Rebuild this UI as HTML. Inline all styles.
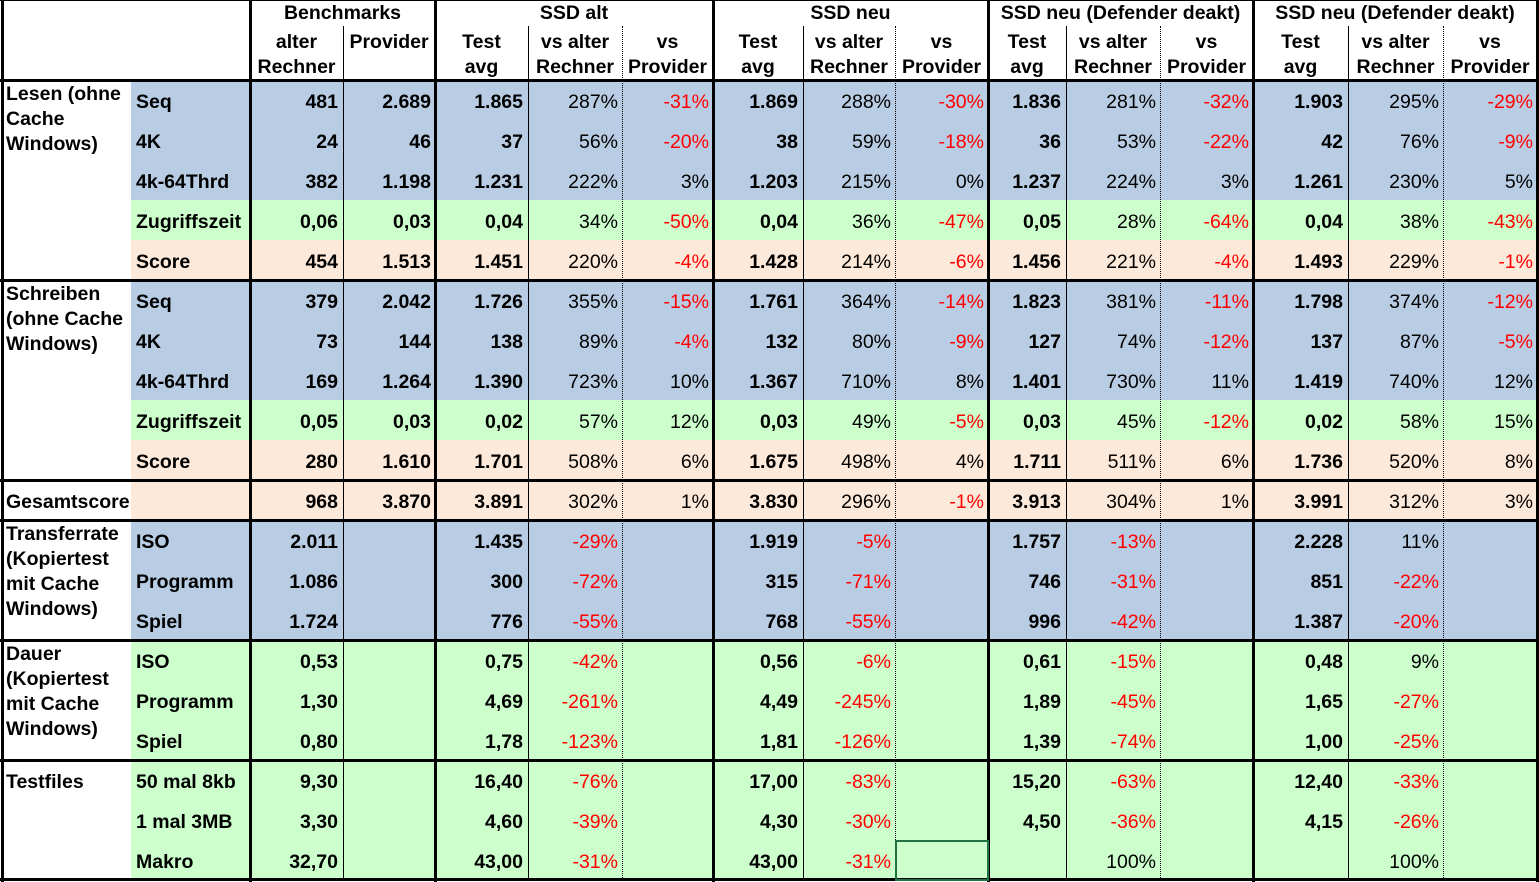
<!DOCTYPE html>
<html><head><meta charset="utf-8">
<style>
html,body{margin:0;padding:0;background:#fff;}
body{width:1539px;height:882px;position:relative;overflow:hidden;font-family:"Liberation Sans",Arial,sans-serif;}
.c{position:absolute;box-sizing:border-box;font-size:19.5px;line-height:40px;white-space:nowrap;color:#000;}
.t{padding-top:2px;}
.r{text-align:right;padding-right:4px;}
.b{font-weight:bold;}
.neg{color:#ff0000;}
.ln{position:absolute;background:#000;}
.dot{position:absolute;border-left:1px dotted #000;width:0;}
.h{position:absolute;font-size:19.5px;font-weight:bold;text-align:center;line-height:25px;}
.lab{position:absolute;font-size:19.5px;font-weight:bold;line-height:25px;left:6px;}
</style></head>
<body>
<div id="t"></div>
<script>
const edges=[2,131,250,343,435,528,622,713,803,895,988,1066,1160,1253,1348,1443,1537];
const groupTitles=["Benchmarks","SSD alt","SSD neu","SSD neu (Defender deakt)","SSD neu (Defender deakt)"];
const subHeaders=[["alter","Rechner"],["Provider",""],["Test","avg"],["vs alter","Rechner"],["vs","Provider"],["Test","avg"],["vs alter","Rechner"],["vs","Provider"],["Test","avg"],["vs alter","Rechner"],["vs","Provider"],["Test","avg"],["vs alter","Rechner"],["vs","Provider"]];
const sectionLabels=[["Lesen (ohne","Cache","Windows)"],["Schreiben","(ohne Cache","Windows)"],["Gesamtscore"],["Transferrate","(Kopiertest","mit Cache","Windows)"],["Dauer","(Kopiertest","mit Cache","Windows)"],["Testfiles"]];
const sectionRows=[5,5,1,3,3,3];
const rowLabels=["Seq","4K","4k-64Thrd","Zugriffszeit","Score","Seq","4K","4k-64Thrd","Zugriffszeit","Score","","ISO","Programm","Spiel","ISO","Programm","Spiel","50 mal 8kb","1 mal 3MB","Makro"];
const rowColors=["b","b","b","g","p","b","b","b","g","p","p","b","b","b","g","g","g","g","g","g"];
const values=[
["481","2.689","1.865","287%","-31%","1.869","288%","-30%","1.836","281%","-32%","1.903","295%","-29%"],
["24","46","37","56%","-20%","38","59%","-18%","36","53%","-22%","42","76%","-9%"],
["382","1.198","1.231","222%","3%","1.203","215%","0%","1.237","224%","3%","1.261","230%","5%"],
["0,06","0,03","0,04","34%","-50%","0,04","36%","-47%","0,05","28%","-64%","0,04","38%","-43%"],
["454","1.513","1.451","220%","-4%","1.428","214%","-6%","1.456","221%","-4%","1.493","229%","-1%"],
["379","2.042","1.726","355%","-15%","1.761","364%","-14%","1.823","381%","-11%","1.798","374%","-12%"],
["73","144","138","89%","-4%","132","80%","-9%","127","74%","-12%","137","87%","-5%"],
["169","1.264","1.390","723%","10%","1.367","710%","8%","1.401","730%","11%","1.419","740%","12%"],
["0,05","0,03","0,02","57%","12%","0,03","49%","-5%","0,03","45%","-12%","0,02","58%","15%"],
["280","1.610","1.701","508%","6%","1.675","498%","4%","1.711","511%","6%","1.736","520%","8%"],
["968","3.870","3.891","302%","1%","3.830","296%","-1%","3.913","304%","1%","3.991","312%","3%"],
["2.011","","1.435","-29%","","1.919","-5%","","1.757","-13%","","2.228","11%",""],
["1.086","","300","-72%","","315","-71%","","746","-31%","","851","-22%",""],
["1.724","","776","-55%","","768","-55%","","996","-42%","","1.387","-20%",""],
["0,53","","0,75","-42%","","0,56","-6%","","0,61","-15%","","0,48","9%",""],
["1,30","","4,69","-261%","","4,49","-245%","","1,89","-45%","","1,65","-27%",""],
["0,80","","1,78","-123%","","1,81","-126%","","1,39","-74%","","1,00","-25%",""],
["9,30","","16,40","-76%","","17,00","-83%","","15,20","-63%","","12,40","-33%",""],
["3,30","","4,60","-39%","","4,30","-30%","","4,50","-36%","","4,15","-26%",""],
["32,70","","43,00","-31%","","43,00","-31%","","","100%","","","100%",""]
];
const colorMap={b:"#b8cce4",g:"#ccffcc",p:"#fde9d9"};
const pctCols=[3,4,6,7,9,10,12,13];
const T=document.getElementById('t');
function add(cls,x,y,w,h,txt){const d=document.createElement('div');d.className=cls;d.style.left=x+'px';d.style.top=y+'px';d.style.width=w+'px';d.style.height=h+'px';if(txt!==undefined)d.textContent=txt;T.appendChild(d);return d;}
const top0=80,rh=40;
rowLabels.forEach((lab,i)=>{
  const y=top0+i*rh;
  const bg=add('c',edges[1],y,edges[16]-edges[1],rh);
  bg.style.background=colorMap[rowColors[i]];
  
  
});
const gEdges=[[2,4],[4,7],[7,10],[10,13],[13,16]];
groupTitles.forEach((g,i)=>{
  const d=add('h',edges[gEdges[i][0]],1,edges[gEdges[i][1]]-edges[gEdges[i][0]],25,g);
  
  
});
subHeaders.forEach((s,j)=>{
  const d=add('h',edges[j+2],30,edges[j+3]-edges[j+2],50);
  d.innerHTML=s[0]+'<br>'+s[1];
  
  
});
let ri=0;
sectionLabels.forEach((s,k)=>{
  const single=s.length==1;
  const d=single?add('c b t',6,top0+ri*rh,240,rh):add('lab',6,top0+ri*rh+2,240,sectionRows[k]*rh);
  d.innerHTML=s.join('<br>');
  
  
  ri+=sectionRows[k];
});
rowLabels.forEach((lab,i)=>{
  const y=top0+i*rh;
  if(lab){const l=add('c b t',136,y,114,rh,lab);
    
    }
  values[i].forEach((v,j)=>{
    const pct=pctCols.includes(j);
    let cls='c t r'+(pct?'':' b')+(pct&&v.startsWith('-')?' neg':'');
    const d=add(cls,edges[j+2],y,edges[j+3]-edges[j+2]-(j==0||j==2||j==5||j==8||j==11?1:0),rh,v);
    
    
  });
});
add('ln',0,0,1539,1);
[80,280,480,520,640,760,879].forEach(y=>{const d=add('ln',0,y-1,1539,3);});
add('ln',1,0,3,882);
[250,435,713,988,1253].forEach(x=>add('ln',x-1,0,3,882));
add('ln',1536,0,3,882);
[343,528,803,1066,1348].forEach(x=>add('ln',x,26,1,854));
[622,895,1160,1443].forEach(x=>{const d=add('dot',x,26,0,854);});
const sel=add('c',895,840,94,41);
sel.style.border='2px solid #217346';


</script>
</body></html>
